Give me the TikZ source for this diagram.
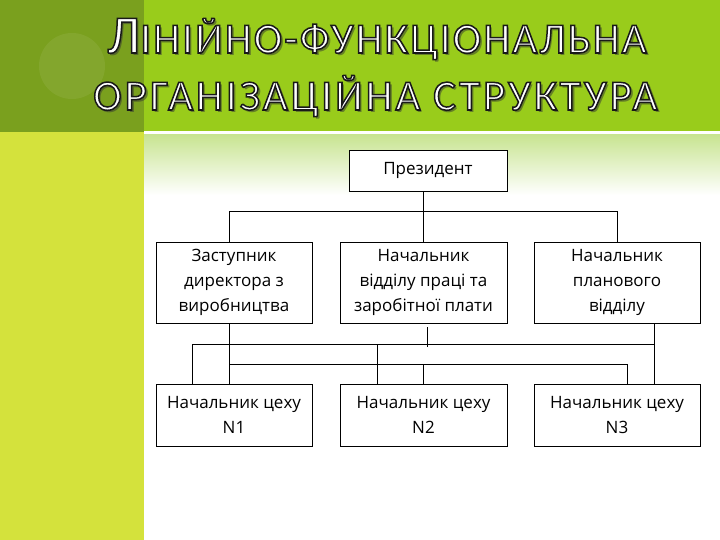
\documentclass[tikz,border=0pt]{standalone}
\usepackage{fontspec}
\setmainfont{Open Sans}
\newfontfamily\titlefont{Carlito}
\usetikzlibrary{calc}
\definecolor{darkgr}{RGB}{122,160,30}
\definecolor{brightgr}{RGB}{153,204,27}
\definecolor{stripgr}{RGB}{212,226,60}
\definecolor{palegr}{RGB}{200,228,145}
\newcommand\outl[1]{\special{pdf:literal direct 2 Tr 0.1 0.1 0.1 RG 1.5 w}#1\special{pdf:literal direct 0 Tr}}
\newcommand\mytitle[4]{%
  \node[ttl, text=black!80, opacity=0.5] (#1s) at (#2+2.5,#3+3) {#4};
  \node[ttl, text=white] (#1) at (#2,#3) {\outl{#4}};}
\begin{document}
\begin{tikzpicture}[x=1pt,y=-1pt,
  box/.style={draw=black, line width=0.8pt, fill=white, align=center,
    font=\fontsize{17}{25}\selectfont, inner sep=0pt},
  conn/.style={draw=black, line width=0.8pt},
  ttl/.style={anchor=base west, inner sep=0pt}]
\useasboundingbox (0,0) rectangle (720,540);
\fill[white] (0,0) rectangle (720,540);
\fill[darkgr] (0,0) rectangle (144,132.5);
\fill[stripgr] (0,132.5) rectangle (144,540);
\fill[brightgr] (144,0) rectangle (720,131.5);
\shade[top color=palegr, bottom color=white] (144,135) rectangle (720,195);
\fill[white, opacity=0.07] (72,66) circle (33pt);

\mytitle{t1}{107}{53}{\titlefont\addfontfeature{LetterSpace=5}\fontsize{54}{54}\selectfont Л\fontsize{43}{43}\selectfont ІНІЙНО-ФУНКЦІОНАЛЬНА}
\mytitle{t2}{93}{110}{\titlefont\addfontfeature{LetterSpace=7}\fontsize{43}{43}\selectfont ОРГАНІЗАЦІЙНА СТРУКТУРА}

\node[box, minimum width=158pt, minimum height=41pt] (pres) at (428,170.5) {Президент};
\node[box, minimum width=156pt, minimum height=81pt] (a) at (234,282.5) {Заступник\\директора з\\виробництва};
\node[box, minimum width=167pt, minimum height=81pt] (b) at (423.5,282.5) {Начальник\\відділу праці та\\заробітної плати};
\node[box, minimum width=166pt, minimum height=81pt] (c) at (617,282.5) {Начальник\\планового\\відділу};
\node[box, minimum width=156pt, minimum height=62pt] (d) at (234,415) {Начальник цеху\\N1};
\node[box, minimum width=167pt, minimum height=62pt] (e) at (423.5,415) {Начальник цеху\\N2};
\node[box, minimum width=166pt, minimum height=62pt] (f) at (617,415) {Начальник цеху\\N3};

\coordinate (xA) at (229,0);
\coordinate (xB) at (423,0);
\coordinate (xC) at (617,0);
\coordinate (xD1) at (192,0);
\coordinate (xE1) at (377,0);
\coordinate (xF1) at (627,0);
\coordinate (xF2) at (654,0);
\coordinate (yT) at (0,211);
\coordinate (yU) at (0,344);
\coordinate (yL) at (0,364);
\coordinate (m1) at (427,327);
\coordinate (m2) at (427,347);

\draw[conn] (pres.south -| xB) -- (b.north -| xB);
\draw[conn] (a.north -| xA) -- (yT -| xA) -| (c.north -| xC);
\draw[conn] (a.south -| xA) -- (d.north -| xA);
\draw[conn] (c.south -| xF2) -- (f.north -| xF2);
\draw[conn] (yU -| xF2) -| (d.north -| xD1);
\draw[conn] (yU -| xE1) -- (e.north -| xE1);
\draw[conn] (yL -| xA) -| (f.north -| xF1);
\draw[conn] (yL -| xB) -- (e.north -| xB);
\draw[conn] (m1) -- (m2);
\end{tikzpicture}
\end{document}
